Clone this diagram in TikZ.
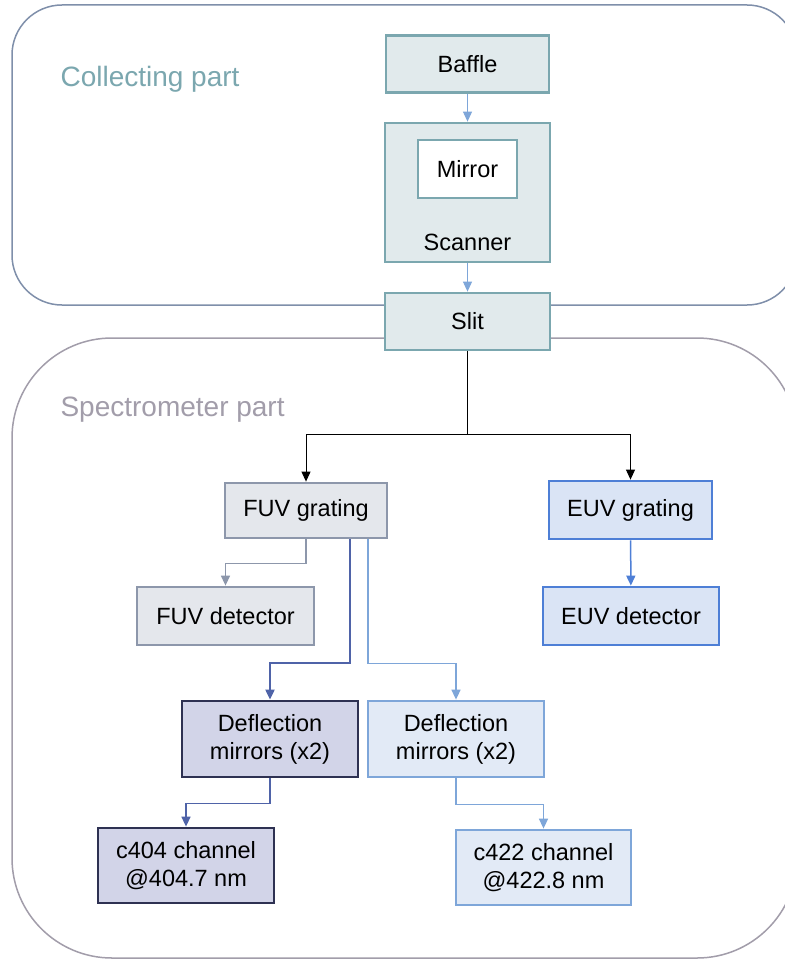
\documentclass[tikz,border=0pt]{standalone}
\usepackage{fontspec}
\setmainfont{Liberation Sans}
\usepackage{xcolor}
\usepackage{tikz}
\usetikzlibrary{calc}
\usetikzlibrary{arrows.meta}

\definecolor{tealline}{HTML}{7BA7AF}
\definecolor{tealfill}{HTML}{E1EAEC}
\definecolor{colline}{HTML}{7F8FAA}
\definecolor{specline}{HTML}{A29DAA}
\definecolor{fuvline}{HTML}{8D97AB}
\definecolor{fuvfill}{HTML}{E4E7EC}
\definecolor{euvline}{HTML}{4E7FD6}
\definecolor{euvfill}{HTML}{DAE4F5}
\definecolor{darkline}{HTML}{2E3152}
\definecolor{darkfill}{HTML}{D2D4E8}
\definecolor{darkarrow}{HTML}{4F63A8}
\definecolor{lightline}{HTML}{7EA6D9}
\definecolor{lightfill}{HTML}{E2EAF6}

\begin{document}
\begin{tikzpicture}[x=1pt,y=-1pt,
    box/.style={draw,line width=2.8pt,inner sep=0pt,align=center,
        font=\fontsize{23.5}{28}\selectfont},
    tealbox/.style={box,draw=tealline,fill=tealfill},
    fuvbox/.style={box,draw=fuvline,fill=fuvfill},
    euvbox/.style={box,draw=euvline,fill=euvfill},
    darkbox/.style={box,draw=darkline,fill=darkfill},
    lightbox/.style={box,draw=lightline,fill=lightfill},
    arr/.style={-{Triangle[length=10pt,width=9pt]},line width=1.5pt},
    partlabel/.style={anchor=west,font=\fontsize{28}{32}\selectfont}]
\useasboundingbox (0,0) rectangle (784,960);

% Containers
\draw[colline,line width=1.5pt,fill=white,rounded corners=50] (12,5) rectangle (797,305);
\draw[specline,line width=1.5pt,fill=white,rounded corners=100] (12,338) rectangle (797,958);
\node[partlabel,text=tealline] (collect) at (57,79) {Collecting part};
\node[partlabel,text=specline] (spectro) at (57,410) {Spectrometer part};

% Collecting part
\node[tealbox,minimum width=163,minimum height=57] (baffle) at (467.5,64) {Baffle};
\node[tealbox,minimum width=165,minimum height=139] (scanner) at (467.5,192.5) {};
\node[tealbox,fill=white,minimum width=99,minimum height=58] (mirror) at (467.5,169) {Mirror};
\node[font=\fontsize{23.5}{28}\selectfont] (scanlabel) at (467.5,242) {Scanner};
\node[tealbox,minimum width=165,minimum height=57] (slit) at (467.5,321.5) {Slit};

\draw[arr,line width=1pt,lightline] (baffle) -- (scanner);
\draw[arr,line width=1pt,lightline] (scanner) -- (slit);

% Gratings and detectors
\node[fuvbox,minimum width=162,minimum height=55] (fuvg) at (306,510.5) {FUV grating};
\node[euvbox,minimum width=163,minimum height=58] (euvg) at (630.5,510) {EUV grating};
\node[fuvbox,minimum width=177,minimum height=58] (fuvd) at (225.5,616) {FUV detector};
\node[euvbox,minimum width=176,minimum height=58] (euvd) at (631,616) {EUV detector};

\draw[arr,line width=1pt,black] (slit.south) -- ++(0,83) -| (fuvg.north);
\draw[arr,line width=1pt,black] (slit.south) -- ++(0,83) -| (euvg.north);
\draw[arr,fuvline] (fuvg.south) -- ++(0,24) -| (fuvd.north);
\draw[arr,euvline] (euvg) -- (euvd);

% Deflection mirrors and channels
\node[darkbox,minimum width=176,minimum height=76] (defa) at (270,739) {Deflection\\mirrors (x2)};
\node[lightbox,minimum width=176,minimum height=76] (defb) at (456,739) {Deflection\\mirrors (x2)};
\node[darkbox,minimum width=176,minimum height=75] (chana) at (186,865.5) {c404 channel\\@404.7 nm};
\node[lightbox,minimum width=175,minimum height=75] (chanb) at (543.5,867.5) {c422 channel\\@422.8 nm};

\draw[arr,darkarrow,line width=2pt] ([xshift=44pt]fuvg.south) -- ++(0,124) -| (defa.north);
\draw[arr,lightline] ([xshift=62pt]fuvg.south) -- ++(0,124) -| (defb.north);
\draw[arr,darkarrow] (defa.south) -- ++(0,25) -| (chana.north);
\draw[arr,lightline] (defb.south) -- ++(0,26) -| (chanb.north);
\end{tikzpicture}
\end{document}
